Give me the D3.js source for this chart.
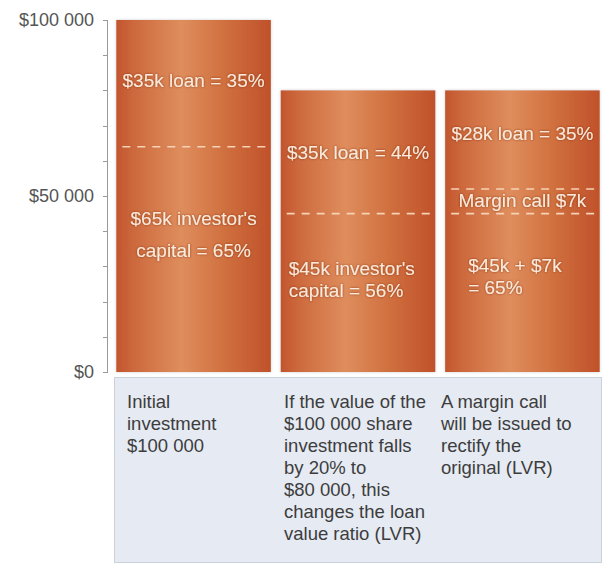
<!DOCTYPE html>
<html><head><meta charset="utf-8">
<script src="https://cdn.jsdelivr.net/npm/d3@7"></script>
<style>html,body{margin:0;padding:0;background:#fff;}svg{display:block;font-family:"Liberation Sans",Arial,sans-serif;}</style>
</head><body>
<svg id="c" width="611" height="563"></svg>
<script>
// ---- data ----
const categories = ["Initial", "Fall", "Margin call"];
const totals = [100000, 80000, 80000];
const loanValues = [36000, 35000, 28000];
const marginCall = [0, 0, 7000];
const capitalValues = [64000, 45000, 45000];
const yTickValues = [0, 50000, 100000];
const yTickLabels = ["$0", "$50 000", "$100 000"];
const barLabels = [
  { loan: ["$35k loan = 35%"], margin: [], capital: ["$65k investor's", "capital = 65%"] },
  { loan: ["$35k loan = 44%"], margin: [], capital: ["$45k investor's", "capital = 56%"] },
  { loan: ["$28k loan = 35%"], margin: ["Margin call $7k"], capital: ["$45k + $7k", "= 65%"] }
];
const captions = [
  ["Initial", "investment", "$100 000"],
  ["If the value of the", "$100 000 share", "investment falls", "by 20% to", "$80 000, this", "changes the loan", "value ratio (LVR)"],
  ["A margin call", "will be issued to", "rectify the", "original (LVR)"]
];

// ---- drawing ----
const svg = d3.select("#c");
const y = d3.scaleLinear().domain([0, 100000]).range([372, 20]);
const x = d3.scaleBand().domain(categories).range([113, 603]).paddingInner(0.06).paddingOuter(0.02);

const defs = svg.append("defs");
const g = defs.append("linearGradient").attr("id", "barg").attr("x1", 0).attr("x2", 1).attr("y1", 0).attr("y2", 0);
[[0, "#c3552d"], [0.12, "#cd6a3e"], [0.42, "#df8d5d"], [0.7, "#d0703f"], [1, "#c0512a"]].forEach(s =>
  g.append("stop").attr("offset", s[0]).attr("stop-color", s[1]));
const f = defs.append("filter").attr("id", "ts").attr("x", "-10%").attr("y", "-20%").attr("width", "120%").attr("height", "140%");
f.append("feDropShadow").attr("dx", 0).attr("dy", 0).attr("stdDeviation", 0.8).attr("flood-color", "#7a2a10").attr("flood-opacity", 0.8);
const bs = defs.append("filter").attr("id", "bs").attr("x", "-5%").attr("y", "-5%").attr("width", "110%").attr("height", "110%");
bs.append("feDropShadow").attr("dx", 0).attr("dy", 0).attr("stdDeviation", 1.5).attr("flood-color", "#8a8f99").attr("flood-opacity", 0.45);

// caption panel
svg.append("rect").attr("x", 114.5).attr("y", 377.5).attr("width", 487).attr("height", 185)
  .attr("fill", "#e5eaf3").attr("stroke", "#c9d1de");

// bars
svg.append("g").selectAll("rect").data(categories).join("rect")
  .attr("x", d => x(d)).attr("width", x.bandwidth())
  .attr("y", (d, i) => y(totals[i])).attr("height", (d, i) => y(0) - y(totals[i]))
  .attr("fill", "url(#barg)").attr("filter", "url(#bs)");

// dashed separators
categories.forEach((c, i) => {
  const lines = [capitalValues[i]];
  if (marginCall[i] > 0) lines.push(capitalValues[i] + marginCall[i]);
  lines.forEach(v => svg.append("line")
    .attr("x1", x(c) + 6).attr("x2", x(c) + x.bandwidth() - 2)
    .attr("y1", y(v)).attr("y2", y(v))
    .attr("stroke", "#f6d2b6").attr("stroke-width", 1.6).attr("stroke-dasharray", "8,7"));
});

// bar labels
const txtCol = "#fde9d9";
function lbl(cx, yy, t, anchor) {
  svg.append("text").attr("x", cx).attr("y", yy).attr("text-anchor", anchor || "middle")
    .attr("font-size", 19).attr("fill", txtCol).attr("filter", "url(#ts)").text(t);
}
// bar 1
{
  const c = categories[0], cx = x(c) + x.bandwidth() / 2;
  lbl(cx, 87, barLabels[0].loan[0]);
  lbl(cx, 225, barLabels[0].capital[0]);
  lbl(cx, 257, barLabels[0].capital[1]);
}
// bar 2
{
  const c = categories[1], x0 = x(c) + 8;
  lbl(x(c) + x.bandwidth() / 2, 159, barLabels[1].loan[0]);
  lbl(x0, 275, barLabels[1].capital[0], "start");
  lbl(x0, 297, barLabels[1].capital[1], "start");
}
// bar 3
{
  const c = categories[2], cx = x(c) + x.bandwidth() / 2, x0 = x(c) + 23;
  lbl(cx, 140, barLabels[2].loan[0]);
  lbl(cx, 207, barLabels[2].margin[0]);
  lbl(x0, 272, barLabels[2].capital[0], "start");
  lbl(x0, 294, barLabels[2].capital[1], "start");
}

// axis
const axis = svg.append("g");
axis.append("line").attr("x1", 107.5).attr("x2", 107.5).attr("y1", y(100000)).attr("y2", y(0)).attr("stroke", "#9a9a9a");
d3.range(0, 100001, 10000).forEach(v => axis.append("line")
  .attr("x1", 103).attr("x2", 108).attr("y1", Math.round(y(v)) + 0.5).attr("y2", Math.round(y(v)) + 0.5).attr("stroke", "#9a9a9a"));
axis.selectAll("text").data(yTickValues).join("text")
  .attr("x", 94).attr("y", d => y(d) + 6).attr("text-anchor", "end")
  .attr("font-size", 18).attr("fill", "#555").text((d, i) => yTickLabels[i]);

// captions
const capX = [127, 284, 441];
captions.forEach((lines, i) => {
  const t = svg.append("text").attr("font-size", 18.5).attr("fill", "#3d3d3d");
  lines.forEach((l, j) => t.append("tspan").attr("x", capX[i]).attr("y", 408 + j * 22).text(l));
});
</script>
</body></html>
